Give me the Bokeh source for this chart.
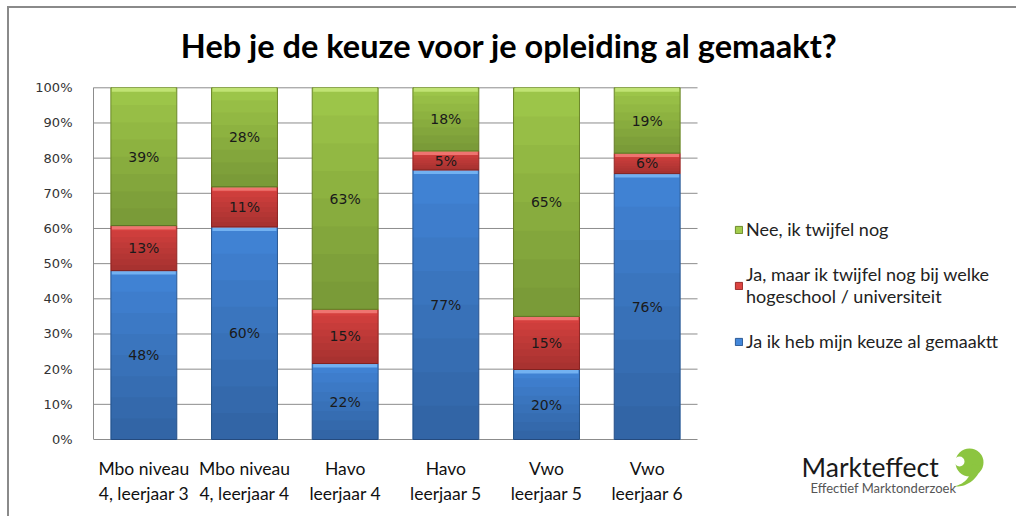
import numpy as np
from bokeh.plotting import figure
from bokeh.models import (Range1d, Label, Legend, LegendItem,
                          NumeralTickFormatter, FixedTicker, ColumnDataSource)
from bokeh.core.properties import value
from bokeh.embed import file_html
from bokeh.resources import INLINE

# ---------------- data ----------------
categories = ["Mbo niveau\n4, leerjaar 3", "Mbo niveau\n4, leerjaar 4",
              "Havo\nleerjaar 4", "Havo\nleerjaar 5",
              "Vwo\nleerjaar 5", "Vwo\nleerjaar 6"]
ja_gemaakt = [48.0, 60.4, 21.6, 76.6, 19.9, 75.6]
ja_twijfel = [12.8, 11.4, 15.4, 5.4, 15.1, 5.8]
nee_twijfel = [39.2, 28.2, 63.0, 18.0, 65.0, 18.6]
series_names = ["Ja ik heb mijn keuze al gemaaktt",
                "Ja, maar ik twijfel nog bij welke\nhogeschool / universiteit",
                "Nee, ik twijfel nog"]
y_ticks = [0.0, 0.1, 0.2, 0.3, 0.4, 0.5, 0.6, 0.7, 0.8, 0.9, 1.0]
title_text = "Heb je de keuze voor je opleiding al gemaakt?"
logo_name = "Markteffect"
logo_sub = "Effectief Marktonderzoek"

# ---------------- layout constants ----------------
W, H = 1009, 510
LEFT = 84                 # y-axis panel
PX_X = 100.67             # pixels per category
PX_Y = 351.7              # pixels per 100 %
TOP_GAP = 79.3            # canvas px above the 100 % line
X_END = (W - LEFT) / PX_X
Y_END = 1 + TOP_GAP / PX_Y
Y_START = Y_END - H / PX_Y

def sx(px):   # page x pixel -> data x (decoration placement only)
    return (px - 93) / PX_X

def sy(py):   # page y pixel -> data y (decoration placement only)
    return (439 - py) / PX_Y

base_colors = ["#4387da", "#dc4340", "#a2cc4c"]
bevel_colors = ["#78b6f4", "#f27a76", "#c4e678"]
edge_colors = ["#2c5a96", "#9a2a28", "#6e8a2c"]
BAR_W = 0.655
GRID_COLOR = "#8c8c8c"

p = figure(x_range=Range1d(0, X_END), y_range=Range1d(Y_START, Y_END),
           width=W, height=H,
           min_border_left=LEFT, min_border_right=0,
           min_border_top=0, min_border_bottom=0,
           output_backend="svg", toolbar_location=None,
           background_fill_color="white", border_fill_color="white")
p.styles = {"border-left": "2px solid #8a8a8a", "border-top": "2px solid #8a8a8a",
            "margin-left": "7px", "margin-top": "6px"}
p.outline_line_color = None
p.grid.grid_line_color = None
p.xaxis.visible = False

# y axis (line limited to 0..100 %)
p.yaxis.bounds = (0, 1)
p.yaxis.ticker = FixedTicker(ticks=y_ticks)
p.yaxis.formatter = NumeralTickFormatter(format="0%")
p.yaxis.axis_line_color = GRID_COLOR
p.yaxis.major_tick_line_color = None
p.yaxis.minor_tick_line_color = None
p.yaxis.major_label_standoff = 15
p.yaxis.major_label_text_font = "DejaVu Sans"
p.yaxis.major_label_text_font_size = "13px"
p.yaxis.major_label_text_color = "#333333"

n = len(categories)
xpos = [i + 0.5 for i in range(n)]

# horizontal grid lines spanning the category area only
p.segment(x0=[0] * len(y_ticks), x1=[n] * len(y_ticks), y0=y_ticks, y1=y_ticks,
          line_color=GRID_COLOR, line_width=1)

# category labels (x axis)
p.text(x=xpos, y=[sy(457)] * n, text=categories, text_align="center",
       text_baseline="top", text_font=value("Lato"), text_font_size="17.5px",
       text_line_height=1.2, text_color="#111111")

# ---------------- stacked bars ----------------
series = [ja_gemaakt, ja_twijfel, nee_twijfel]
bottoms = [0.0] * n
renderers = []
label_x, label_y, label_t = [], [], []
N_BANDS = 8
for i, vals in enumerate(series):
    fr = [v / 100.0 for v in vals]
    tops = [b + f for b, f in zip(bottoms, fr)]
    src = ColumnDataSource(dict(x=xpos, bottom=bottoms, top=tops))
    r = p.vbar(x="x", bottom="bottom", top="top", width=BAR_W, source=src,
               fill_color=base_colors[i], line_color=edge_colors[i], line_width=1)
    renderers.append(r)
    for k in range(1, N_BANDS + 1):
        p.vbar(x=xpos, bottom=bottoms,
               top=[b + f * k / N_BANDS for b, f in zip(bottoms, fr)],
               width=BAR_W - 0.004, fill_color="black", fill_alpha=0.032,
               line_color=None)
    p.vbar(x=xpos, bottom=[t - 0.011 for t in tops], top=tops,
           width=BAR_W - 0.02, fill_color=bevel_colors[i], fill_alpha=0.9,
           line_color=None)
    for xx, b, f, v in zip(xpos, bottoms, fr, vals):
        label_x.append(xx)
        label_y.append(b + f / 2)
        label_t.append(f"{round(v):d}%")
    bottoms = tops

p.text(x=label_x, y=label_y, text=label_t, text_align="center",
       text_baseline="middle", text_font=value("DejaVu Sans"),
       text_font_size="14px", text_color="#1a1a1a")

# ---------------- legend ----------------
legend = Legend(items=[LegendItem(label=series_names[2], renderers=[renderers[2]]),
                       LegendItem(label=series_names[1], renderers=[renderers[1]]),
                       LegendItem(label=series_names[0], renderers=[renderers[0]])],
                location=(641, 166), orientation="vertical",
                glyph_width=9, glyph_height=9, label_standoff=3,
                spacing=23, padding=0, margin=0,
                border_line_color=None, background_fill_alpha=0,
                label_text_font="Lato", label_text_font_size="18px",
                label_text_line_height=1.33,
                label_text_color="#222222")
p.add_layout(legend)

# ---------------- title ----------------
p.add_layout(Label(x=sx(509), y=sy(45), text=title_text, text_align="center",
                   text_baseline="middle", text_font="Lato",
                   text_font_style="bold", text_font_size="32.5px",
                   text_color="#000000"))

# ---------------- logo ----------------
p.add_layout(Label(x=sx(801), y=sy(466), text=logo_name, text_align="left",
                   text_baseline="middle", text_font="Lato",
                   text_font_size="26.5px", text_color="#1a1a1a"))
p.add_layout(Label(x=sx(810), y=sy(487), text=logo_sub, text_align="left",
                   text_baseline="middle", text_font="Lato",
                   text_font_size="13px", text_color="#555555"))
LOGO_GREEN = "#8cc540"
p.scatter(x=[sx(969)], y=[sy(462)], size=28, marker="circle",
          fill_color=LOGO_GREEN, line_color=None)
p.scatter(x=[sx(959)], y=[sy(461)], size=10, marker="circle",
          fill_color="white", line_color=None)
ang_o = np.radians(np.linspace(-10, -95, 24))
ang_i = ang_o[::-1]
r_o = np.linspace(26, 25, 24)
r_i = np.linspace(16, 25, 24)[::-1]
cx, cy = 955, 461
tx = list(cx + r_o * np.cos(ang_o)) + list(cx + r_i * np.cos(ang_i))
ty = list(cy - r_o * np.sin(ang_o)) + list(cy - r_i * np.sin(ang_i))
p.patch(x=[sx(v) for v in tx], y=[sy(v) for v in ty],
        fill_color=LOGO_GREEN, line_color=None)

open("out.html", "w").write(file_html(p, INLINE))
